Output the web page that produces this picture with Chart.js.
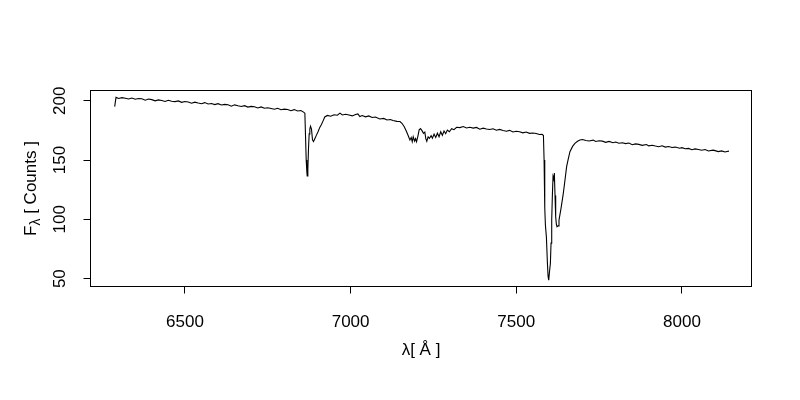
<!DOCTYPE html>
<html><head><meta charset="utf-8">
<style>html,body{margin:0;padding:0;background:#fff}canvas{display:block}</style>
<script src="https://cdn.jsdelivr.net/npm/chart.js@4.4.1/dist/chart.umd.min.js"></script>
</head><body>
<canvas id="c" width="800" height="400"></canvas>
<script>
// Wavelength (Angstrom) and flux (counts)
const wavelength = [
6288,6292,6300,6310,6320,6330,6340,6350,6360,6370,6380,6390,6400,6410,6420,6430,6440,6450,6460,6470,
6480,6490,6500,6510,6520,6530,6540,6550,6560,6570,6580,6590,6600,6610,6620,6630,6640,6650,6660,6670,
6680,6690,6700,6710,6720,6730,6740,6750,6760,6770,6780,6790,6800,6810,6820,6830,6840,6850,6858,
6862,6864,6866,6868,6869,6871,6873,6875,6877,6879,6882,6885,6888,6892,6897,6902,6907,6912,6917,6922,
6930,6940,6950,6960,6968,6975,6985,6995,7005,7015,7022,7028,7035,7045,7055,7065,7075,7088,7100,7110,
7120,7128,7140,7149,7155,7162,7169,7174,7179,7183,7186,7189,7193,7196,7199,7203,7207,7211,7215,7220,
7224,7227,7230,7234,7238,7243,7247,7252,7257,7262,7267,7272,7277,7282,7287,7292,7298,7305,7312,7320,
7330,7340,7350,7360,7370,7380,7390,7400,7410,7420,7430,7440,7450,7460,7470,7480,7490,7500,7510,7520,
7530,7540,7550,7560,7570,7578,7582,
7584,7586,7588,7591,7594,7596,7598,7600,7603,7605,7607,7609,7611,7613,7615,7617,7619,7621,7623,7626,
7629,7635,7642,7647,7652,7657,7662,7670,7677,7685,7692,7700,7710,7720,7732,7740,7750,7760,7770,7780,
7792,7800,7810,7820,7830,7840,7850,7860,7870,7880,7893,7900,7910,7920,7930,7940,7950,7960,7970,7980,
7993,8000,8010,8020,8030,8040,8050,8060,8070,8080,8094,8100,8110,8120,8130,8136,8142
];
const flux = [
195.0,202.8,201.9,202.6,202.1,201.4,202.3,201.2,201.8,201.6,200.4,201.4,200.9,199.9,200.7,200.2,199.3,200.4,199.6,199.2,
199.8,198.6,199.3,198.9,197.9,198.8,198.1,197.5,198.4,197.2,197.6,196.7,197.5,196.4,196.9,196.6,195.4,196.5,195.7,195.1,
195.8,194.6,195.2,194.9,193.9,194.8,193.6,194.0,193.5,192.8,193.6,192.4,192.9,192.6,191.6,192.5,191.3,191.7,190.4,
189.5,170.0,150.0,140.0,136.5,142.0,160.0,172.0,176.0,178.5,176.0,167.0,165.5,168.0,171.0,174.0,177.5,180.0,183.0,186.3,
187.6,186.9,188.2,187.8,189.5,188.0,188.6,187.9,187.2,188.3,188.9,186.7,187.5,186.4,187.2,185.8,186.3,184.6,185.1,183.8,
184.2,183.3,182.6,182.5,181.0,178.0,173.9,170.5,166.9,169.0,165.4,169.6,166.0,168.0,165.4,170.0,175.5,176.5,175.0,172.5,
173.5,168.0,165.8,169.5,168.2,170.5,168.4,171.8,169.0,172.6,169.6,173.8,170.8,174.4,172.2,175.2,173.8,176.4,175.6,177.6,
177.3,178.2,177.0,177.6,176.9,177.5,176.0,176.9,176.2,175.7,176.3,175.1,175.8,174.9,174.3,175.0,173.6,174.2,173.8,172.9,
173.6,172.5,172.8,172.3,171.5,171.6,170.6,
150.0,110.0,95.0,85.0,63.4,52.0,48.8,55.0,62.9,80.0,99.4,120.0,136.0,134.0,139.0,120.0,102.2,96.0,93.8,94.5,
99.4,109.0,121.9,133.0,144.4,151.0,157.0,161.5,164.1,165.8,166.9,167.3,166.5,166.0,166.8,165.6,166.2,165.9,164.9,165.7,
164.6,165.2,164.1,164.5,163.8,164.3,162.9,163.6,163.2,162.4,163.1,161.9,162.5,161.8,161.2,162.0,160.9,161.4,160.6,160.9,
159.9,160.4,159.5,159.8,158.7,159.4,158.9,158.2,158.8,157.6,158.3,157.9,157.1,157.7,156.8,157.2,157.5
];
const xTicks = [6500, 7000, 7500, 8000];
const yTicks = [50, 100, 150, 200];
const xTitle = 'λ[ Å ]';
const yTitleMain = 'F', yTitleSub = 'λ', yTitleRest = ' [ Counts ]';

const FONT = '"Liberation Sans", Arial, Helvetica, sans-serif';
const FS = 17;

const textPlugin = {
  id: 'rtext',
  afterDraw(chart) {
    const ctx = chart.ctx, a = chart.chartArea;
    ctx.save();
    ctx.strokeStyle = '#000'; ctx.lineWidth = 1;
    ctx.strokeRect(a.left, a.top, a.right - a.left, a.bottom - a.top);
    ctx.fillStyle = '#000';
    ctx.font = FS + 'px ' + FONT;
    ctx.textAlign = 'center'; ctx.textBaseline = 'middle';
    const ys = chart.scales.y;
    ys.ticks.forEach(t => {
      const py = ys.getPixelForValue(t.value);
      ctx.save(); ctx.translate(60, py); ctx.rotate(-Math.PI / 2);
      ctx.fillText(String(t.value), 0, 0); ctx.restore();
    });
    ctx.fillText(xTitle, (a.left + a.right) / 2, 350);
    const subFont = Math.round(FS * 0.8) + 'px ' + FONT;
    ctx.font = FS + 'px ' + FONT;
    const wF = ctx.measureText(yTitleMain).width;
    const wR = ctx.measureText(yTitleRest).width;
    ctx.font = subFont;
    const wS = ctx.measureText(yTitleSub).width;
    const total = wF + wS + wR;
    ctx.save();
    ctx.translate(31, (a.top + a.bottom) / 2);
    ctx.rotate(-Math.PI / 2);
    ctx.textAlign = 'left';
    let x0 = -total / 2;
    ctx.font = FS + 'px ' + FONT;
    ctx.fillText(yTitleMain, x0, 0);
    ctx.font = subFont;
    ctx.fillText(yTitleSub, x0 + wF, 5);
    ctx.font = FS + 'px ' + FONT;
    ctx.fillText(yTitleRest, x0 + wF + wS, 0);
    ctx.restore();
    ctx.restore();
  }
};

new Chart(document.getElementById('c'), {
  type: 'line',
  data: { datasets: [{
    data: wavelength.map((w, i) => ({ x: w, y: flux[i] })),
    borderColor: '#000', borderWidth: 1.1, pointRadius: 0, tension: 0, fill: false
  }] },
  options: {
    responsive: false, animation: false, devicePixelRatio: 1,
    layout: { padding: { top: 90.5, right: 48.5, left: 0, bottom: 0 } },
    plugins: { legend: { display: false }, tooltip: { enabled: false } },
    scales: {
      x: {
        type: 'linear', min: 6215, max: 8210,
        afterBuildTicks: s => { s.ticks = xTicks.map(v => ({ value: v })); },
        afterFit: s => { s.height = 113.5; },
        grid: { drawOnChartArea: false, drawTicks: true, tickLength: 7, color: '#000', lineWidth: 1 },
        border: { display: false },
        ticks: { color: '#000', font: { family: FONT, size: FS }, padding: 19, maxRotation: 0, autoSkip: false,
                 callback: v => String(v) }
      },
      y: {
        type: 'linear', min: 43.4, max: 208.6,
        afterBuildTicks: s => { s.ticks = yTicks.map(v => ({ value: v })); },
        afterFit: s => { s.width = 90.5; },
        grid: { drawOnChartArea: false, drawTicks: true, tickLength: 7, color: '#000', lineWidth: 1 },
        border: { display: false },
        ticks: { display: false }
      }
    }
  },
  plugins: [textPlugin]
});
</script>
</body></html>
